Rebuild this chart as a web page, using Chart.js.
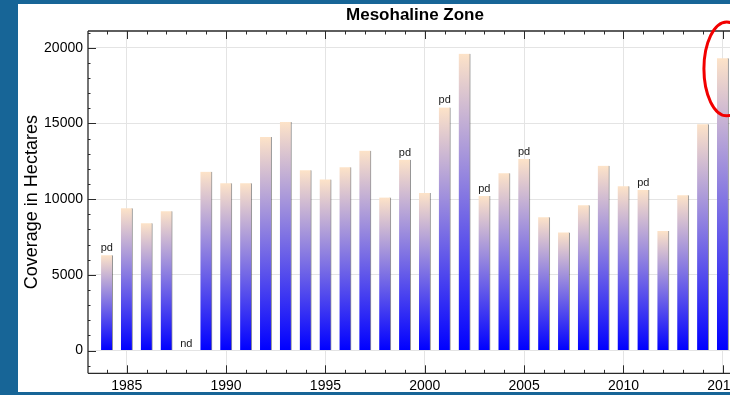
<!DOCTYPE html>
<html>
<head>
<meta charset="utf-8">
<title>Mesohaline Zone</title>
<script src="https://cdn.jsdelivr.net/npm/chart.js@4.4.1/dist/chart.umd.min.js"></script>
<style>
  html, body { margin: 0; padding: 0; }
  body { width: 730px; height: 395px; overflow: hidden; background: #176597; position: relative; }
  #panel { position: absolute; left: 18px; top: 4px; width: 794px; height: 388px; background: #ffffff; }
  #chart { display: block; }
</style>
</head>
<body>
<div id="panel"><canvas id="chart" width="794" height="388"></canvas></div>
<script>
// Submerged aquatic vegetation coverage, mesohaline salinity zone (hectares)
const years = [1984, 1985, 1986, 1987, 1988, 1989, 1990, 1991, 1992, 1993, 1994, 1995,
               1996, 1997, 1998, 1999, 2000, 2001, 2002, 2003, 2004, 2005, 2006, 2007,
               2008, 2009, 2010, 2011, 2012, 2013, 2014, 2015];
const coverage = [6300, 9400, 8400, 9200, null, 11800, 11050, 11050, 14100, 15100, 11900, 11300,
                  12100, 13200, 10100, 12600, 10400, 16050, 19600, 10200, 11700, 12650, 8800, 7800,
                  9600, 12200, 10850, 10600, 7900, 10250, 14950, 19300];
// pd = partial data, nd = no data
const notes = ['pd', '', '', '', 'nd', '', '', '', '', '', '', '',
               '', '', '', 'pd', '', 'pd', '', 'pd', '', 'pd', '', '',
               '', '', '', 'pd', '', '', '', ''];
const yTickLabels = [0, 5000, 10000, 15000, 20000];
const xTickLabels = [1985, 1990, 1995, 2000, 2005, 2010, 2015];

// Highlight ring around the latest year
const highlight = { year: 2015.2, value: 18600, halfYears: 1.15, halfValue: 3100 };

const FONT = "'Liberation Sans', Arial, Helvetica, sans-serif";
const PEACH = '#fde3c8';
const BLUE = '#0000ff';
const GRID = '#e4e4e4';

function barGradient(c) {
  const chart = c.chart;
  if (c.type !== 'data' || !chart.chartArea || c.parsed == null || c.parsed.y == null) return BLUE;
  const ys = chart.scales.y;
  const y0 = ys.getPixelForValue(0);
  const y1 = ys.getPixelForValue(c.parsed.y);
  const g = chart.ctx.createLinearGradient(0, y0, 0, y1);
  g.addColorStop(0, BLUE);
  g.addColorStop(1, PEACH);
  return g;
}

// Box frame with inward major/minor tick marks
const axisFrame = {
  id: 'axisFrame',
  afterDraw(chart) {
    const { ctx, chartArea: a, scales: { x, y } } = chart;
    ctx.save();
    ctx.strokeStyle = '#2a2a2a';
    ctx.lineWidth = 1.3;
    ctx.beginPath();
    ctx.moveTo(a.left, a.top); ctx.lineTo(a.right, a.top);
    ctx.moveTo(a.left, a.top); ctx.lineTo(a.left, a.bottom);
    ctx.moveTo(a.left, a.bottom); ctx.lineTo(a.right, a.bottom);
    ctx.stroke();
    ctx.lineWidth = 1;
    ctx.beginPath();
    for (let yr = Math.ceil(x.min); yr <= x.max; yr++) {
      const px = Math.round(x.getPixelForValue(yr)) + 0.5;
      const len = yr % 5 === 0 ? 8 : 3.5;
      ctx.moveTo(px, a.bottom); ctx.lineTo(px, a.bottom - len);
      ctx.moveTo(px, a.top); ctx.lineTo(px, a.top + len);
    }
    for (let v = Math.ceil(y.min / 1000) * 1000; v <= y.max; v += 1000) {
      const py = Math.round(y.getPixelForValue(v)) + 0.5;
      const len = v % 5000 === 0 ? 8 : 2.5;
      ctx.moveTo(a.left, py); ctx.lineTo(a.left + len, py);
    }
    ctx.stroke();

    // highlight ring
    const cx = x.getPixelForValue(highlight.year);
    const cy = y.getPixelForValue(highlight.value);
    const rx = Math.abs(x.getPixelForValue(highlight.year + highlight.halfYears) - cx);
    const ry = Math.abs(y.getPixelForValue(highlight.value + highlight.halfValue) - cy);
    ctx.strokeStyle = '#f20000';
    ctx.lineWidth = 3;
    ctx.beginPath();
    ctx.ellipse(cx, cy, rx, ry, 0, 0, Math.PI * 2);
    ctx.stroke();
    ctx.restore();
  }
};

// "pd" / "nd" notes above the bars
const barNotes = {
  id: 'barNotes',
  afterDatasetsDraw(chart) {
    const { ctx, scales: { x, y } } = chart;
    ctx.save();
    ctx.font = '11px ' + FONT;
    ctx.fillStyle = '#1a1a1a';
    ctx.textAlign = 'center';
    ctx.textBaseline = 'alphabetic';
    notes.forEach((n, i) => {
      if (!n) return;
      const v = coverage[i] == null ? 0 : coverage[i];
      ctx.fillText(n, x.getPixelForValue(years[i]), y.getPixelForValue(v) - 4);
    });
    ctx.restore();
  }
};

new Chart(document.getElementById('chart'), {
  type: 'bar',
  data: {
    datasets: [{
      label: 'Coverage',
      data: years.map((yr, i) => ({ x: yr, y: coverage[i] })),
      backgroundColor: barGradient,
      borderColor: 'rgba(60,60,60,0.55)',
      borderWidth: { top: 0, right: 1, bottom: 0, left: 0 },
      borderSkipped: 'start',
      barThickness: 11.6
    }]
  },
  options: {
    responsive: false,
    devicePixelRatio: 1,
    animation: false,
    layout: { padding: 0 },
    plugins: {
      legend: { display: false },
      tooltip: { enabled: false },
      title: {
        display: true,
        text: 'Mesohaline Zone',
        color: '#000',
        font: { family: FONT, size: 17, weight: 'bold' },
        padding: { top: 1, bottom: 5.6 }
      }
    },
    scales: {
      x: {
        type: 'linear',
        offset: false,
        min: 1983.05,
        max: 2019.49,
        afterBuildTicks: s => { s.ticks = xTickLabels.map(v => ({ value: v })); },
        afterFit: s => { s.height = 18.7; },
        border: { display: false },
        grid: { offset: false, drawTicks: false, color: GRID },
        ticks: {
          autoSkip: false,
          maxRotation: 0,
          padding: 4,
          color: '#000',
          font: { family: FONT, size: 14 },
          callback: v => String(v)
        }
      },
      y: {
        min: -1500,
        max: 21100,
        afterBuildTicks: s => { s.ticks = yTickLabels.map(v => ({ value: v })); },
        afterFit: s => { s.width = 70; },
        border: { display: false },
        grid: { drawTicks: false, color: GRID },
        ticks: {
          autoSkip: false,
          padding: 5,
          color: '#000',
          font: { family: FONT, size: 14 },
          callback: v => String(v)
        },
        title: {
          display: true,
          text: 'Coverage in Hectares',
          color: '#000',
          font: { family: FONT, size: 18 },
          padding: { top: 3, bottom: 0 }
        }
      }
    }
  },
  plugins: [axisFrame, barNotes]
});
</script>
</body>
</html>
